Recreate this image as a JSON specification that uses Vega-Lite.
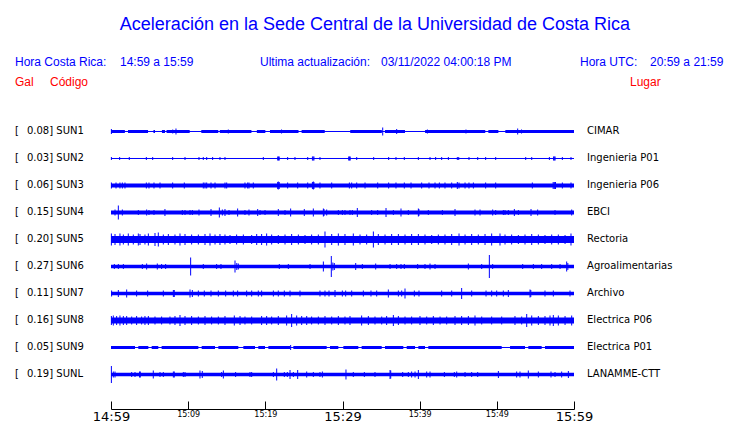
{
  "$schema": "https://vega.github.io/schema/vega-lite/v6.json",
  "width": 463,
  "height": 409,
  "autosize": "none",
  "padding": {"left": 111, "right": 166, "top": 0, "bottom": 14},
  "background": "white",
  "config": {"view": {"stroke": null}},
  "datasets": {
    "stations": [
      {"k": 0, "code": "SUN1", "gal": "0.08", "place": "CIMAR"},
      {"k": 1, "code": "SUN2", "gal": "0.03", "place": "Ingenieria P01"},
      {"k": 2, "code": "SUN3", "gal": "0.06", "place": "Ingenieria P06"},
      {"k": 3, "code": "SUN4", "gal": "0.15", "place": "EBCI"},
      {"k": 4, "code": "SUN5", "gal": "0.20", "place": "Rectoria"},
      {"k": 5, "code": "SUN6", "gal": "0.27", "place": "Agroalimentarias"},
      {"k": 6, "code": "SUN7", "gal": "0.11", "place": "Archivo"},
      {"k": 7, "code": "SUN8", "gal": "0.16", "place": "Electrica P06"},
      {"k": 8, "code": "SUN9", "gal": "0.05", "place": "Electrica P01"},
      {"k": 9, "code": "SUNL", "gal": "0.19", "place": "LANAMME-CTT"}
    ],
    "segs": [
      {"k": 0, "t0": 0, "t1": 60, "w": 1},
      {"k": 1, "t0": 0, "t1": 60, "w": 1},
      {"k": 2, "t0": 0, "t1": 60, "w": 4},
      {"k": 3, "t0": 0, "t1": 60, "w": 4},
      {"k": 4, "t0": 0, "t1": 60, "w": 7},
      {"k": 5, "t0": 0, "t1": 60, "w": 3.5},
      {"k": 6, "t0": 0, "t1": 60, "w": 3.5},
      {"k": 7, "t0": 0, "t1": 60, "w": 6},
      {"k": 8, "t0": 0, "t1": 60, "w": 1},
      {"k": 9, "t0": 0, "t1": 60, "w": 3.5},
      {"k": 0, "t0": 0, "t1": 1.8, "w": 3},
      {"k": 0, "t0": 2.2, "t1": 4.8, "w": 3},
      {"k": 0, "t0": 5.5, "t1": 5.7, "w": 3},
      {"k": 0, "t0": 6.6, "t1": 7.0, "w": 3},
      {"k": 0, "t0": 7.2, "t1": 10.2, "w": 3},
      {"k": 0, "t0": 11.7, "t1": 13.9, "w": 3},
      {"k": 0, "t0": 14.1, "t1": 18.2, "w": 3},
      {"k": 0, "t0": 18.9, "t1": 20.0, "w": 3},
      {"k": 0, "t0": 20.6, "t1": 24.3, "w": 3},
      {"k": 0, "t0": 24.7, "t1": 27.7, "w": 3},
      {"k": 0, "t0": 31.0, "t1": 35.1, "w": 3},
      {"k": 0, "t0": 35.5, "t1": 38.1, "w": 3},
      {"k": 0, "t0": 40.7, "t1": 48.5, "w": 3},
      {"k": 0, "t0": 48.9, "t1": 50.2, "w": 3},
      {"k": 0, "t0": 51.1, "t1": 60, "w": 3},
      {"k": 8, "t0": 0, "t1": 3.11, "w": 3},
      {"k": 8, "t0": 3.54, "t1": 4.84, "w": 3},
      {"k": 8, "t0": 5.27, "t1": 6.13, "w": 3},
      {"k": 8, "t0": 6.56, "t1": 11.32, "w": 3},
      {"k": 8, "t0": 11.75, "t1": 13.48, "w": 3},
      {"k": 8, "t0": 13.91, "t1": 16.5, "w": 3},
      {"k": 8, "t0": 17.15, "t1": 18.66, "w": 3},
      {"k": 8, "t0": 19.09, "t1": 19.96, "w": 3},
      {"k": 8, "t0": 20.39, "t1": 23.2, "w": 3},
      {"k": 8, "t0": 23.63, "t1": 27.95, "w": 3},
      {"k": 8, "t0": 28.38, "t1": 29.46, "w": 3},
      {"k": 8, "t0": 30.11, "t1": 32.05, "w": 3},
      {"k": 8, "t0": 32.48, "t1": 35.08, "w": 3},
      {"k": 8, "t0": 35.51, "t1": 37.88, "w": 3},
      {"k": 8, "t0": 38.32, "t1": 39.4, "w": 3},
      {"k": 8, "t0": 39.83, "t1": 40.69, "w": 3},
      {"k": 8, "t0": 41.12, "t1": 50.63, "w": 3},
      {"k": 8, "t0": 51.71, "t1": 53.65, "w": 3},
      {"k": 8, "t0": 54.08, "t1": 55.81, "w": 3},
      {"k": 8, "t0": 56.24, "t1": 60, "w": 3}
    ],
    "spikes": [
      {"k":0,"t":0.05,"h":5},{"k":0,"t":8.0,"h":4},{"k":0,"t":8.42,"h":6},{"k":0,"t":15.2,"h":4},{"k":0,"t":22.1,"h":4},{"k":0,"t":35.21,"h":8},{"k":0,"t":37.02,"h":5},{"k":0,"t":41.0,"h":4},{"k":0,"t":46.0,"h":4},{"k":0,"t":52.7,"h":6},{"k":0,"t":53.2,"h":4},
      {"k":1,"t":0.05,"h":3},{"k":1,"t":1.12,"h":3},{"k":1,"t":2.37,"h":3},{"k":1,"t":4.58,"h":3},{"k":1,"t":5.4,"h":3},{"k":1,"t":7.99,"h":3},{"k":1,"t":9.59,"h":3},{"k":1,"t":11.4,"h":3},{"k":1,"t":11.96,"h":3},{"k":1,"t":12.4,"h":3},{"k":1,"t":13.17,"h":3},{"k":1,"t":14.12,"h":3},{"k":1,"t":14.77,"h":3},{"k":1,"t":19.74,"h":3},{"k":1,"t":21.6,"h":4},{"k":1,"t":21.7,"h":4},{"k":1,"t":21.8,"h":4},{"k":1,"t":22.89,"h":3},{"k":1,"t":23.84,"h":3},{"k":1,"t":25.49,"h":3},{"k":1,"t":26.1,"h":4},{"k":1,"t":26.2,"h":4},{"k":1,"t":26.3,"h":4},{"k":1,"t":27.08,"h":3},{"k":1,"t":30.8,"h":4},{"k":1,"t":30.9,"h":4},{"k":1,"t":31.0,"h":4},{"k":1,"t":31.84,"h":3},{"k":1,"t":34.04,"h":3},{"k":1,"t":35.98,"h":3},{"k":1,"t":36.93,"h":3},{"k":1,"t":38.01,"h":3},{"k":1,"t":39.83,"h":3},{"k":1,"t":41.34,"h":3},{"k":1,"t":42.07,"h":3},{"k":1,"t":42.85,"h":3},{"k":1,"t":43.72,"h":3},{"k":1,"t":44.88,"h":3},{"k":1,"t":45.06,"h":3},{"k":1,"t":46.39,"h":3},{"k":1,"t":47.52,"h":3},{"k":1,"t":48.55,"h":3},{"k":1,"t":49.85,"h":3},{"k":1,"t":53.74,"h":3},{"k":1,"t":54.52,"h":3},{"k":1,"t":56.81,"h":3},{"k":1,"t":57.35,"h":4},{"k":1,"t":57.45,"h":4},{"k":1,"t":57.55,"h":4},{"k":1,"t":58.49,"h":3},{"k":1,"t":59.61,"h":3},
      {"k":2,"t":0.05,"h":6},{"k":2,"t":0.65,"h":6},{"k":2,"t":1.16,"h":6},{"k":2,"t":1.47,"h":6},{"k":2,"t":1.81,"h":6},{"k":2,"t":4.58,"h":6},{"k":2,"t":4.92,"h":6},{"k":2,"t":5.57,"h":6},{"k":2,"t":6.35,"h":6},{"k":2,"t":7.99,"h":6},{"k":2,"t":9.5,"h":6},{"k":2,"t":11.96,"h":6},{"k":2,"t":12.18,"h":6},{"k":2,"t":12.4,"h":6},{"k":2,"t":12.96,"h":6},{"k":2,"t":13.48,"h":6},{"k":2,"t":14.77,"h":6},{"k":2,"t":14.99,"h":6},{"k":2,"t":17.36,"h":6},{"k":2,"t":17.71,"h":6},{"k":2,"t":17.88,"h":6},{"k":2,"t":18.44,"h":6},{"k":2,"t":21.6,"h":7},{"k":2,"t":21.68,"h":8},{"k":2,"t":21.8,"h":7},{"k":2,"t":22.89,"h":6},{"k":2,"t":24.19,"h":6},{"k":2,"t":25.49,"h":6},{"k":2,"t":26.1,"h":7},{"k":2,"t":26.22,"h":8},{"k":2,"t":26.3,"h":7},{"k":2,"t":27.08,"h":6},{"k":2,"t":28.6,"h":6},{"k":2,"t":30.89,"h":6},{"k":2,"t":31.19,"h":6},{"k":2,"t":31.84,"h":6},{"k":2,"t":32.92,"h":6},{"k":2,"t":34.56,"h":6},{"k":2,"t":35.98,"h":6},{"k":2,"t":36.93,"h":6},{"k":2,"t":38.01,"h":6},{"k":2,"t":38.88,"h":6},{"k":2,"t":40.26,"h":6},{"k":2,"t":41.21,"h":6},{"k":2,"t":41.99,"h":6},{"k":2,"t":42.55,"h":6},{"k":2,"t":43.28,"h":6},{"k":2,"t":44.15,"h":6},{"k":2,"t":44.88,"h":7},{"k":2,"t":45.1,"h":6},{"k":2,"t":45.88,"h":6},{"k":2,"t":46.39,"h":6},{"k":2,"t":46.96,"h":6},{"k":2,"t":48.55,"h":6},{"k":2,"t":49.85,"h":6},{"k":2,"t":54.6,"h":6},{"k":2,"t":57.3,"h":7},{"k":2,"t":57.45,"h":7},{"k":2,"t":57.6,"h":7},{"k":2,"t":58.49,"h":6},{"k":2,"t":59.61,"h":6},
      {"k":3,"t":0.52,"h":6},{"k":3,"t":0.95,"h":14},{"k":3,"t":1.47,"h":6},{"k":3,"t":3.54,"h":5},{"k":3,"t":4.62,"h":6},{"k":3,"t":4.92,"h":5},{"k":3,"t":5.57,"h":5},{"k":3,"t":6.99,"h":7},{"k":3,"t":9.24,"h":5},{"k":3,"t":9.59,"h":5},{"k":3,"t":10.24,"h":5},{"k":3,"t":10.54,"h":5},{"k":3,"t":11.4,"h":6},{"k":3,"t":12.96,"h":7},{"k":3,"t":14.04,"h":10},{"k":3,"t":14.43,"h":6},{"k":3,"t":14.77,"h":7},{"k":3,"t":15.29,"h":5},{"k":3,"t":16.41,"h":8},{"k":3,"t":17.36,"h":5},{"k":3,"t":17.88,"h":6},{"k":3,"t":19.01,"h":7},{"k":3,"t":19.31,"h":5},{"k":3,"t":19.96,"h":5},{"k":3,"t":21.68,"h":7},{"k":3,"t":22.55,"h":5},{"k":3,"t":23.28,"h":8},{"k":3,"t":25.05,"h":7},{"k":3,"t":26.22,"h":8},{"k":3,"t":27.52,"h":8},{"k":3,"t":27.6,"h":7},{"k":3,"t":27.95,"h":6},{"k":3,"t":29.46,"h":5},{"k":3,"t":29.98,"h":5},{"k":3,"t":30.32,"h":5},{"k":3,"t":30.97,"h":5},{"k":3,"t":31.27,"h":5},{"k":3,"t":31.92,"h":9},{"k":3,"t":33.78,"h":5},{"k":3,"t":34.56,"h":5},{"k":3,"t":35.64,"h":9},{"k":3,"t":36.59,"h":5},{"k":3,"t":37.58,"h":8},{"k":3,"t":38.53,"h":5},{"k":3,"t":39.83,"h":8},{"k":3,"t":39.9,"h":7},{"k":3,"t":41.12,"h":5},{"k":3,"t":42.94,"h":5},{"k":3,"t":44.58,"h":7},{"k":3,"t":47.17,"h":6},{"k":3,"t":47.82,"h":6},{"k":3,"t":49.46,"h":6},{"k":3,"t":49.85,"h":5},{"k":3,"t":50.84,"h":5},{"k":3,"t":51.06,"h":5},{"k":3,"t":51.49,"h":5},{"k":3,"t":52.27,"h":7},{"k":3,"t":52.79,"h":5},{"k":3,"t":54.43,"h":7},{"k":3,"t":55.29,"h":6},{"k":3,"t":57.54,"h":5},{"k":3,"t":59.7,"h":6},
      {"k":4,"t":0.05,"h":12},{"k":4,"t":0.52,"h":11},{"k":4,"t":1.16,"h":12},{"k":4,"t":1.6,"h":10},{"k":4,"t":2.24,"h":12},{"k":4,"t":2.89,"h":10},{"k":4,"t":3.54,"h":12},{"k":4,"t":3.76,"h":11},{"k":4,"t":4.4,"h":10},{"k":4,"t":4.84,"h":12},{"k":4,"t":5.7,"h":13},{"k":4,"t":6.13,"h":14},{"k":4,"t":6.78,"h":10},{"k":4,"t":7.43,"h":11},{"k":4,"t":8.29,"h":10},{"k":4,"t":8.94,"h":12},{"k":4,"t":9.59,"h":11},{"k":4,"t":10.45,"h":10},{"k":4,"t":11.32,"h":10},{"k":4,"t":12.18,"h":11},{"k":4,"t":12.83,"h":12},{"k":4,"t":13.48,"h":10},{"k":4,"t":14.12,"h":11},{"k":4,"t":14.77,"h":10},{"k":4,"t":15.42,"h":9},{"k":4,"t":16.28,"h":10},{"k":4,"t":17.15,"h":10},{"k":4,"t":18.23,"h":9},{"k":4,"t":18.88,"h":11},{"k":4,"t":19.52,"h":11},{"k":4,"t":20.17,"h":12},{"k":4,"t":20.82,"h":10},{"k":4,"t":21.68,"h":9},{"k":4,"t":22.55,"h":10},{"k":4,"t":23.41,"h":11},{"k":4,"t":24.28,"h":10},{"k":4,"t":25.14,"h":9},{"k":4,"t":26.0,"h":10},{"k":4,"t":26.87,"h":10},{"k":4,"t":27.73,"h":16},{"k":4,"t":28.6,"h":11},{"k":4,"t":29.46,"h":12},{"k":4,"t":30.32,"h":11},{"k":4,"t":31.4,"h":12},{"k":4,"t":32.27,"h":10},{"k":4,"t":33.13,"h":10},{"k":4,"t":34.0,"h":16},{"k":4,"t":34.64,"h":11},{"k":4,"t":35.51,"h":10},{"k":4,"t":36.37,"h":11},{"k":4,"t":37.24,"h":11},{"k":4,"t":38.1,"h":10},{"k":4,"t":38.96,"h":11},{"k":4,"t":39.83,"h":11},{"k":4,"t":40.69,"h":10},{"k":4,"t":41.56,"h":9},{"k":4,"t":42.42,"h":10},{"k":4,"t":43.28,"h":10},{"k":4,"t":44.15,"h":11},{"k":4,"t":45.1,"h":12},{"k":4,"t":45.88,"h":10},{"k":4,"t":46.74,"h":11},{"k":4,"t":47.6,"h":10},{"k":4,"t":48.47,"h":11},{"k":4,"t":49.33,"h":12},{"k":4,"t":50.41,"h":12},{"k":4,"t":51.06,"h":10},{"k":4,"t":51.92,"h":10},{"k":4,"t":52.79,"h":9},{"k":4,"t":53.65,"h":10},{"k":4,"t":54.52,"h":11},{"k":4,"t":55.38,"h":10},{"k":4,"t":56.24,"h":9},{"k":4,"t":57.11,"h":10},{"k":4,"t":57.97,"h":10},{"k":4,"t":58.84,"h":9},{"k":4,"t":59.61,"h":12},
      {"k":5,"t":0.43,"h":5},{"k":5,"t":0.95,"h":5},{"k":5,"t":1.6,"h":5},{"k":5,"t":4.06,"h":5},{"k":5,"t":4.62,"h":6},{"k":5,"t":6.0,"h":6},{"k":5,"t":6.56,"h":5},{"k":5,"t":7.08,"h":5},{"k":5,"t":10.32,"h":18},{"k":5,"t":11.96,"h":5},{"k":5,"t":13.69,"h":5},{"k":5,"t":14.25,"h":5},{"k":5,"t":16.07,"h":12},{"k":5,"t":16.3,"h":7},{"k":5,"t":16.5,"h":6},{"k":5,"t":21.81,"h":5},{"k":5,"t":22.98,"h":5},{"k":5,"t":25.79,"h":5},{"k":5,"t":27.52,"h":10},{"k":5,"t":28.55,"h":21},{"k":5,"t":28.75,"h":8},{"k":5,"t":28.94,"h":7},{"k":5,"t":31.71,"h":7},{"k":5,"t":32.57,"h":5},{"k":5,"t":34.3,"h":6},{"k":5,"t":36.16,"h":5},{"k":5,"t":37.02,"h":5},{"k":5,"t":37.58,"h":5},{"k":5,"t":38.01,"h":5},{"k":5,"t":39.74,"h":5},{"k":5,"t":40.69,"h":5},{"k":5,"t":41.34,"h":6},{"k":5,"t":41.99,"h":5},{"k":5,"t":46.31,"h":6},{"k":5,"t":48.04,"h":5},{"k":5,"t":49.03,"h":23},{"k":5,"t":49.46,"h":5},{"k":5,"t":53.35,"h":5},{"k":5,"t":54.73,"h":5},{"k":5,"t":55.81,"h":5},{"k":5,"t":57.11,"h":5},{"k":5,"t":58.19,"h":5},{"k":5,"t":59.05,"h":10},{"k":5,"t":59.2,"h":7},
      {"k":6,"t":0.08,"h":6},{"k":6,"t":0.95,"h":7},{"k":6,"t":2.03,"h":8},{"k":6,"t":3.32,"h":6},{"k":6,"t":4.75,"h":6},{"k":6,"t":6.78,"h":6},{"k":6,"t":8.08,"h":7},{"k":6,"t":8.2,"h":7},{"k":6,"t":10.24,"h":8},{"k":6,"t":10.54,"h":7},{"k":6,"t":11.32,"h":6},{"k":6,"t":12.09,"h":6},{"k":6,"t":12.96,"h":6},{"k":6,"t":13.91,"h":6},{"k":6,"t":14.86,"h":6},{"k":6,"t":15.85,"h":6},{"k":6,"t":16.41,"h":6},{"k":6,"t":17.58,"h":6},{"k":6,"t":18.23,"h":6},{"k":6,"t":19.09,"h":6},{"k":6,"t":19.52,"h":6},{"k":6,"t":21.04,"h":6},{"k":6,"t":21.68,"h":6},{"k":6,"t":22.46,"h":6},{"k":6,"t":23.2,"h":6},{"k":6,"t":24.49,"h":6},{"k":6,"t":27.08,"h":6},{"k":6,"t":27.73,"h":6},{"k":6,"t":28.25,"h":6},{"k":6,"t":29.03,"h":7},{"k":6,"t":29.98,"h":6},{"k":6,"t":30.41,"h":6},{"k":6,"t":31.19,"h":6},{"k":6,"t":32.7,"h":6},{"k":6,"t":33.69,"h":6},{"k":6,"t":34.43,"h":6},{"k":6,"t":35.94,"h":8},{"k":6,"t":37.24,"h":6},{"k":6,"t":37.67,"h":6},{"k":6,"t":38.1,"h":10},{"k":6,"t":39.31,"h":6},{"k":6,"t":39.91,"h":6},{"k":6,"t":42.85,"h":6},{"k":6,"t":44.15,"h":6},{"k":6,"t":45.44,"h":11},{"k":6,"t":46.74,"h":6},{"k":6,"t":48.6,"h":6},{"k":6,"t":49.33,"h":6},{"k":6,"t":49.98,"h":6},{"k":6,"t":50.84,"h":6},{"k":6,"t":51.49,"h":7},{"k":6,"t":54.3,"h":8},{"k":6,"t":54.4,"h":7},{"k":6,"t":56.24,"h":6},{"k":6,"t":57.32,"h":6},{"k":6,"t":59.48,"h":6},
      {"k":7,"t":0.05,"h":9},{"k":7,"t":0.3,"h":10},{"k":7,"t":0.73,"h":9},{"k":7,"t":1.16,"h":10},{"k":7,"t":1.6,"h":9},{"k":7,"t":2.03,"h":9},{"k":7,"t":2.68,"h":8},{"k":7,"t":3.32,"h":9},{"k":7,"t":3.97,"h":8},{"k":7,"t":4.4,"h":9},{"k":7,"t":4.84,"h":9},{"k":7,"t":5.7,"h":8},{"k":7,"t":6.56,"h":8},{"k":7,"t":7.64,"h":8},{"k":7,"t":8.29,"h":9},{"k":7,"t":8.94,"h":11},{"k":7,"t":9.59,"h":9},{"k":7,"t":10.45,"h":9},{"k":7,"t":11.32,"h":8},{"k":7,"t":12.18,"h":9},{"k":7,"t":13.04,"h":8},{"k":7,"t":13.91,"h":8},{"k":7,"t":14.77,"h":9},{"k":7,"t":15.98,"h":10},{"k":7,"t":16.72,"h":9},{"k":7,"t":17.36,"h":8},{"k":7,"t":18.23,"h":8},{"k":7,"t":19.52,"h":9},{"k":7,"t":20.17,"h":9},{"k":7,"t":20.82,"h":8},{"k":7,"t":21.68,"h":9},{"k":7,"t":22.76,"h":10},{"k":7,"t":23.41,"h":13},{"k":7,"t":24.06,"h":10},{"k":7,"t":24.71,"h":9},{"k":7,"t":25.36,"h":9},{"k":7,"t":26.0,"h":8},{"k":7,"t":26.87,"h":8},{"k":7,"t":27.73,"h":9},{"k":7,"t":28.6,"h":8},{"k":7,"t":29.46,"h":9},{"k":7,"t":30.32,"h":8},{"k":7,"t":30.97,"h":9},{"k":7,"t":32.48,"h":10},{"k":7,"t":33.35,"h":9},{"k":7,"t":34.21,"h":8},{"k":7,"t":35.08,"h":8},{"k":7,"t":35.72,"h":9},{"k":7,"t":36.59,"h":11},{"k":7,"t":37.24,"h":9},{"k":7,"t":38.1,"h":8},{"k":7,"t":38.96,"h":8},{"k":7,"t":40.04,"h":9},{"k":7,"t":40.91,"h":8},{"k":7,"t":41.77,"h":9},{"k":7,"t":42.64,"h":8},{"k":7,"t":43.5,"h":8},{"k":7,"t":44.58,"h":9},{"k":7,"t":45.44,"h":9},{"k":7,"t":46.31,"h":9},{"k":7,"t":47.17,"h":10},{"k":7,"t":48.04,"h":8},{"k":7,"t":49.33,"h":8},{"k":7,"t":50.63,"h":8},{"k":7,"t":52.35,"h":9},{"k":7,"t":53.22,"h":8},{"k":7,"t":53.87,"h":13},{"k":7,"t":54.52,"h":10},{"k":7,"t":55.38,"h":9},{"k":7,"t":56.24,"h":9},{"k":7,"t":56.89,"h":10},{"k":7,"t":57.32,"h":11},{"k":7,"t":57.97,"h":10},{"k":7,"t":58.84,"h":9},{"k":7,"t":59.7,"h":10},
      {"k":8,"t":23.28,"h":5},
      {"k":9,"t":0.05,"h":17},{"k":9,"t":0.3,"h":6},{"k":9,"t":0.52,"h":6},{"k":9,"t":2.68,"h":5},{"k":9,"t":3.11,"h":5},{"k":9,"t":3.7,"h":6},{"k":9,"t":3.8,"h":6},{"k":9,"t":5.48,"h":8},{"k":9,"t":6.35,"h":5},{"k":9,"t":6.78,"h":5},{"k":9,"t":8.08,"h":6},{"k":9,"t":8.2,"h":6},{"k":9,"t":9.37,"h":5},{"k":9,"t":9.59,"h":5},{"k":9,"t":11.53,"h":8},{"k":9,"t":11.83,"h":7},{"k":9,"t":14.34,"h":5},{"k":9,"t":14.56,"h":8},{"k":9,"t":16.15,"h":5},{"k":9,"t":18.01,"h":5},{"k":9,"t":18.23,"h":5},{"k":9,"t":21.04,"h":5},{"k":9,"t":21.47,"h":12},{"k":9,"t":22.46,"h":5},{"k":9,"t":22.85,"h":5},{"k":9,"t":23.2,"h":9},{"k":9,"t":23.63,"h":5},{"k":9,"t":24.19,"h":9},{"k":9,"t":25.36,"h":6},{"k":9,"t":26.22,"h":5},{"k":9,"t":27.08,"h":5},{"k":9,"t":27.39,"h":6},{"k":9,"t":30.45,"h":10},{"k":9,"t":31.4,"h":5},{"k":9,"t":32.83,"h":5},{"k":9,"t":34.21,"h":5},{"k":9,"t":36.16,"h":9},{"k":9,"t":36.25,"h":8},{"k":9,"t":37.8,"h":5},{"k":9,"t":38.53,"h":5},{"k":9,"t":38.96,"h":6},{"k":9,"t":39.4,"h":6},{"k":9,"t":39.83,"h":9},{"k":9,"t":40.91,"h":6},{"k":9,"t":41.34,"h":6},{"k":9,"t":43.2,"h":5},{"k":9,"t":44.49,"h":5},{"k":9,"t":44.8,"h":6},{"k":9,"t":45.88,"h":5},{"k":9,"t":46.74,"h":5},{"k":9,"t":47.52,"h":5},{"k":9,"t":50.2,"h":7},{"k":9,"t":52.57,"h":6},{"k":9,"t":53.0,"h":6},{"k":9,"t":54.08,"h":8},{"k":9,"t":55.38,"h":6},{"k":9,"t":57.02,"h":6},{"k":9,"t":57.54,"h":5},{"k":9,"t":58.4,"h":6},{"k":9,"t":59.27,"h":7}
    ]
  },
  "layer": [
    {
      "data": {"name": "segs"},
      "mark": {"type": "rule", "color": "#0000ff", "strokeCap": "butt"},
      "encoding": {
        "x": {
          "field": "t0", "type": "quantitative", "title": null,
          "scale": {"domain": [0, 60], "nice": false, "zero": false},
          "axis": {
            "values": [0, 5, 10, 15, 20, 25, 30, 35, 40, 45, 50, 55, 60],
            "grid": false,
            "domain": true,
            "domainColor": "black", "domainWidth": 1,
            "ticks": true,
            "tickColor": "black", "tickSize": -8, "tickWidth": 1,
            "labelFont": "DejaVu Sans", "labelColor": "black",
            "labelFontSize": {"condition": {"test": "datum.value % 30 == 0", "value": 13}, "value": 8},
            "labelPadding": 9, "labelFlush": false, "labelOverlap": false, "labelBaseline": "top",
            "labelExpr": "datum.value % 10 == 0 ? (floor((899 + datum.value) / 60) + ':' + (((899 + datum.value) % 60) < 10 ? '0' : '') + ((899 + datum.value) % 60)) : ''"
          }
        },
        "x2": {"field": "t1"},
        "y": {
          "field": "k", "type": "quantitative", "axis": null,
          "scale": {"domain": [-4.87, 10.278], "reverse": true, "nice": false, "zero": false}
        },
        "strokeWidth": {"field": "w", "type": "quantitative", "scale": null, "legend": null}
      }
    },
    {
      "data": {"name": "spikes"},
      "mark": {"type": "tick", "color": "#0000ff", "orient": "vertical", "thickness": 1, "opacity": 1},
      "encoding": {
        "x": {"field": "t", "type": "quantitative", "title": null},
        "y": {"field": "k", "type": "quantitative", "axis": null},
        "size": {"field": "h", "type": "quantitative", "scale": null, "legend": null}
      }
    },
    {
      "data": {"name": "stations"},
      "mark": {"type": "text", "font": "DejaVu Sans", "fontSize": 10, "color": "black", "align": "left", "baseline": "middle"},
      "encoding": {
        "x": {"datum": -12.44, "type": "quantitative"},
        "y": {"field": "k", "type": "quantitative", "axis": null},
        "text": {"value": "["}
      }
    },
    {
      "data": {"name": "stations"},
      "transform": [{"calculate": "datum.gal + '] ' + datum.code", "as": "lab"}],
      "mark": {"type": "text", "font": "DejaVu Sans", "fontSize": 10, "color": "black", "align": "left", "baseline": "middle"},
      "encoding": {
        "x": {"datum": -10.89, "type": "quantitative"},
        "y": {"field": "k", "type": "quantitative", "axis": null},
        "text": {"field": "lab"}
      }
    },
    {
      "data": {"name": "stations"},
      "mark": {"type": "text", "font": "DejaVu Sans", "fontSize": 10, "color": "black", "align": "left", "baseline": "middle"},
      "encoding": {
        "x": {"datum": 61.69, "type": "quantitative"},
        "y": {"field": "k", "type": "quantitative", "axis": null},
        "text": {"field": "place"}
      }
    },
    {
      "data": {"values": [{"s": "Aceleración en la Sede Central de la Universidad de Costa Rica"}]},
      "mark": {"type": "text", "font": "Liberation Sans", "fontSize": 18, "color": "#0000ff", "align": "center", "baseline": "middle"},
      "encoding": {
        "x": {"datum": 34.21, "type": "quantitative"},
        "y": {"datum": -3.95, "type": "quantitative", "axis": null},
        "text": {"field": "s"}
      }
    },
    {
      "data": {"values": [{"s": "Hora Costa Rica:"}]},
      "mark": {"type": "text", "font": "Liberation Sans", "fontSize": 12, "color": "#0000ff", "align": "left", "baseline": "middle"},
      "encoding": {"x": {"datum": -12.44, "type": "quantitative"}, "y": {"datum": -2.574, "type": "quantitative", "axis": null}, "text": {"field": "s"}}
    },
    {
      "data": {"values": [{"s": "14:59 a 15:59"}]},
      "mark": {"type": "text", "font": "Liberation Sans", "fontSize": 12, "color": "#0000ff", "align": "left", "baseline": "middle"},
      "encoding": {"x": {"datum": 1.166, "type": "quantitative"}, "y": {"datum": -2.574, "type": "quantitative", "axis": null}, "text": {"field": "s"}}
    },
    {
      "data": {"values": [{"s": "Ultima actualización:"}]},
      "mark": {"type": "text", "font": "Liberation Sans", "fontSize": 12, "color": "#0000ff", "align": "left", "baseline": "middle"},
      "encoding": {"x": {"datum": 19.31, "type": "quantitative"}, "y": {"datum": -2.574, "type": "quantitative", "axis": null}, "text": {"field": "s"}}
    },
    {
      "data": {"values": [{"s": "03/11/2022 04:00:18 PM"}]},
      "mark": {"type": "text", "font": "Liberation Sans", "fontSize": 12, "color": "#0000ff", "align": "left", "baseline": "middle"},
      "encoding": {"x": {"datum": 34.99, "type": "quantitative"}, "y": {"datum": -2.574, "type": "quantitative", "axis": null}, "text": {"field": "s"}}
    },
    {
      "data": {"values": [{"s": "Hora UTC:"}]},
      "mark": {"type": "text", "font": "Liberation Sans", "fontSize": 12, "color": "#0000ff", "align": "left", "baseline": "middle"},
      "encoding": {"x": {"datum": 60.78, "type": "quantitative"}, "y": {"datum": -2.574, "type": "quantitative", "axis": null}, "text": {"field": "s"}}
    },
    {
      "data": {"values": [{"s": "20:59 a 21:59"}]},
      "mark": {"type": "text", "font": "Liberation Sans", "fontSize": 12, "color": "#0000ff", "align": "left", "baseline": "middle"},
      "encoding": {"x": {"datum": 69.85, "type": "quantitative"}, "y": {"datum": -2.574, "type": "quantitative", "axis": null}, "text": {"field": "s"}}
    },
    {
      "data": {"values": [{"s": "Gal"}]},
      "mark": {"type": "text", "font": "Liberation Sans", "fontSize": 12, "color": "#ff0000", "align": "left", "baseline": "middle"},
      "encoding": {"x": {"datum": -12.44, "type": "quantitative"}, "y": {"datum": -1.833, "type": "quantitative", "axis": null}, "text": {"field": "s"}}
    },
    {
      "data": {"values": [{"s": "Código"}]},
      "mark": {"type": "text", "font": "Liberation Sans", "fontSize": 12, "color": "#ff0000", "align": "left", "baseline": "middle"},
      "encoding": {"x": {"datum": -7.905, "type": "quantitative"}, "y": {"datum": -1.833, "type": "quantitative", "axis": null}, "text": {"field": "s"}}
    },
    {
      "data": {"values": [{"s": "Lugar"}]},
      "mark": {"type": "text", "font": "Liberation Sans", "fontSize": 12, "color": "#ff0000", "align": "left", "baseline": "middle"},
      "encoding": {"x": {"datum": 67.26, "type": "quantitative"}, "y": {"datum": -1.833, "type": "quantitative", "axis": null}, "text": {"field": "s"}}
    }
  ]
}
